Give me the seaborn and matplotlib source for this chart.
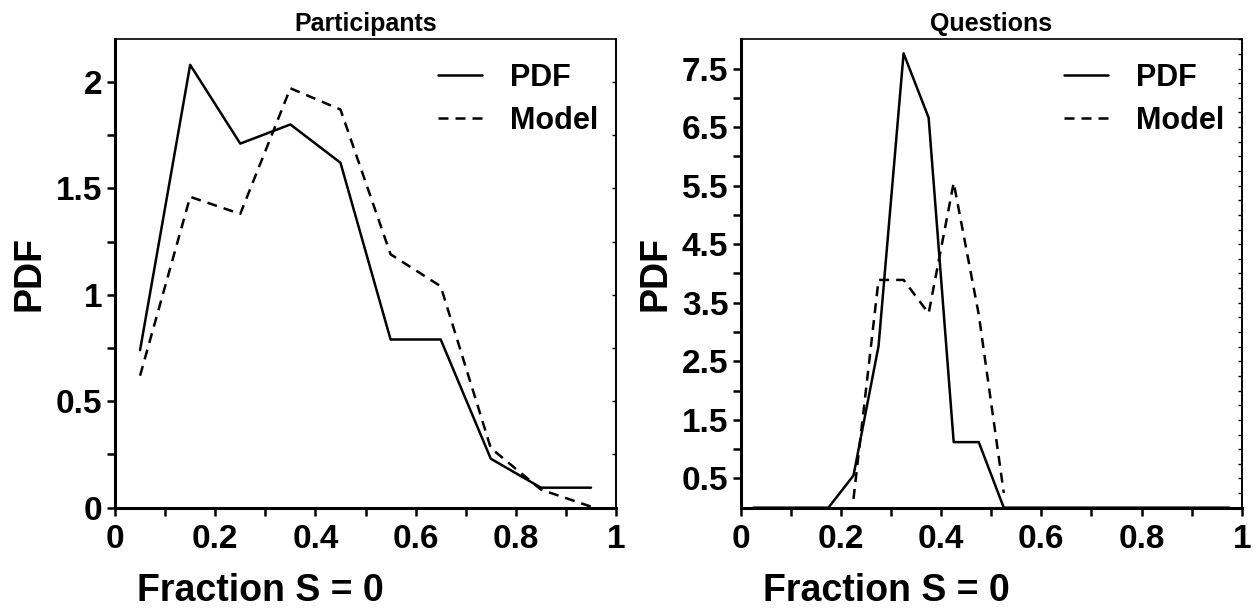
import numpy as np
import pandas as pd
import matplotlib
matplotlib.use("Agg")
import matplotlib.pyplot as plt
import seaborn as sns
from matplotlib.ticker import MultipleLocator, FixedLocator, FuncFormatter

# ---- data ----
x_part = [0.05, 0.15, 0.25, 0.35, 0.45, 0.55, 0.65, 0.75, 0.85, 0.95]
pdf_part = [0.74, 2.08, 1.71, 1.80, 1.62, 0.79, 0.79, 0.23, 0.094, 0.094]
model_part = [0.62, 1.46, 1.38, 1.97, 1.87, 1.19, 1.04, 0.28, 0.085, 0.005]

x_q = [0.025, 0.075, 0.125, 0.175, 0.225, 0.275, 0.325, 0.375, 0.425, 0.475,
       0.525, 0.575, 0.625, 0.675, 0.725, 0.775, 0.825, 0.875, 0.925, 0.975]
pdf_q = [0, 0, 0, 0, 0.55, 2.76, 7.76, 6.66, 1.12, 1.12,
         0, 0, 0, 0, 0, 0, 0, 0, 0, 0]
model_q = [np.nan, np.nan, np.nan, np.nan, 0.15, 3.89, 3.89, 3.32, 5.55, 3.30,
           0.25, np.nan, np.nan, np.nan, np.nan, np.nan, np.nan, np.nan, np.nan, np.nan]

titles = ["Participants", "Questions"]
xlabel = "Fraction S = 0"
ylabel = "PDF"
legend_labels = ["PDF", "Model"]

# ---- style ----
sns.set_style("ticks")
plt.rcParams['font.family'] = ['Liberation Sans', 'DejaVu Sans']
plt.rcParams['font.weight'] = 'bold'
for k in ['text.color', 'axes.labelcolor', 'xtick.color', 'ytick.color', 'axes.edgecolor']:
    plt.rcParams[k] = 'black'

fig = plt.figure(figsize=(12.57, 6.13), dpi=100)
axL = fig.add_axes([0.0915, 0.1718, 0.3986, 0.7641])
axR = fig.add_axes([0.5893, 0.1718, 0.3986, 0.7641])

lw = 1.8
dash = (0, (4, 2.8))

def draw(ax, x, p, m, ylim):
    dfp = pd.DataFrame({"x": x, "y": p}).dropna()
    dfm = pd.DataFrame({"x": x, "y": m}).dropna()
    sns.lineplot(data=dfp, x="x", y="y", ax=ax, color="black", lw=lw,
                 label=legend_labels[0], clip_on=False)
    sns.lineplot(data=dfm, x="x", y="y", ax=ax, color="black", lw=lw,
                 linestyle=dash, label=legend_labels[1], clip_on=False)
    ax.set_xlim(0, 1)
    ax.set_ylim(*ylim)

draw(axL, x_part, pdf_part, model_part, (0, 2.2))
draw(axR, x_q, pdf_q, model_q, (0, 8.0))

tick_fs = 24
for ax, title in zip([axL, axR], titles):
    ax.set_title(title, fontsize=18, fontweight='bold', pad=6, color='black')
    ax.set_xlabel(xlabel, fontsize=27, fontweight='bold', color='black')
    ax.set_ylabel(ylabel, fontsize=27, fontweight='bold', labelpad=6, color='black')
    ax.xaxis.set_label_coords(0.29, -0.14)
    ax.xaxis.set_major_locator(MultipleLocator(0.2))
    ax.xaxis.set_minor_locator(MultipleLocator(0.1))
    ax.xaxis.set_major_formatter(FuncFormatter(lambda v, p: f"{v:g}"))
    for s in ['left', 'bottom']:
        ax.spines[s].set_linewidth(2.2)
    for s in ['top', 'right']:
        ax.spines[s].set_linewidth(1.2)
        ax.spines[s].set_visible(True)
    for s in ax.spines.values():
        s.set_color('black')
    ax.tick_params(axis='both', which='both', direction='out', length=6,
                   width=1.8, labelsize=tick_fs, top=False, right=False,
                   colors='black')
    ax.tick_params(axis='x', which='major', pad=6)
    ax.tick_params(axis='y', which='major', pad=3)
    leg = ax.legend(frameon=False, loc='upper left', bbox_to_anchor=(0.645, 0.95),
                    handlelength=1.45, handletextpad=0.9,
                    labelspacing=0.42, borderpad=0, borderaxespad=0,
                    prop={'weight': 'bold', 'size': 22})
    for t in leg.get_texts():
        t.set_color('black')
    for h in leg.get_lines():
        h.set_linewidth(lw)

axL.yaxis.set_major_locator(MultipleLocator(0.5))
axL.yaxis.set_minor_locator(MultipleLocator(0.25))
axL.yaxis.set_major_formatter(FuncFormatter(lambda v, p: f"{v:g}"))

axR.yaxis.set_major_locator(FixedLocator([0.5 + i for i in range(8)]))
axR.yaxis.set_minor_locator(FixedLocator([1.0 + i for i in range(7)]))
axR.yaxis.set_major_formatter(FuncFormatter(lambda v, p: f"{v:g}"))

for ax in [axL, axR]:
    for lab in ax.get_xticklabels() + ax.get_yticklabels():
        lab.set_fontweight('bold')

# small inward ticks on the right spines
for ax, step in [(axL, 0.25), (axR, 0.25)]:
    sec = ax.secondary_yaxis('right')
    sec.yaxis.set_major_locator(MultipleLocator(step))
    sec.tick_params(direction='in', length=3, width=1.0, labelright=False, colors='black')
    sec.spines['right'].set_linewidth(1.2)
    sec.spines['right'].set_color('black')

fig.savefig("out.png", dpi=100)
